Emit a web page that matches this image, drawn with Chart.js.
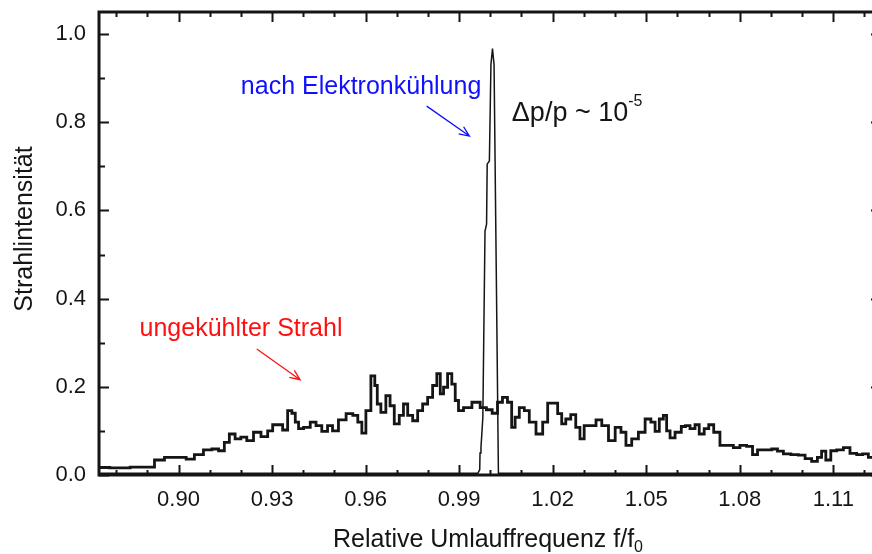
<!DOCTYPE html>
<html>
<head>
<meta charset="utf-8">
<script src="https://cdn.jsdelivr.net/npm/chart.js@4.4.1/dist/chart.umd.min.js"></script>
<style>
  html, body { margin: 0; padding: 0; background: #fff; overflow: hidden; }
</style>
</head>
<body>
<canvas id="beamChart" width="890" height="554"></canvas>
<script>
// ungekühlter Strahl (broad spectrum)
const freqBroad = [0.8746, 0.8813, 0.8877, 0.8915, 0.8931, 0.8979, 0.9011, 0.9038, 0.9064, 0.9096,
  0.9118, 0.9139, 0.9155, 0.9171, 0.9192, 0.9208, 0.9230, 0.9251, 0.9278, 0.9294,
  0.9310, 0.9326, 0.9342, 0.9358, 0.9369, 0.9380, 0.9390, 0.9412, 0.9433, 0.9449,
  0.9470, 0.9486, 0.9502, 0.9524, 0.9551, 0.9567, 0.9583, 0.9593, 0.9609, 0.9625,
  0.9634, 0.9641, 0.9657, 0.9673, 0.9684, 0.9700, 0.9716, 0.9727, 0.9743, 0.9759,
  0.9775, 0.9791, 0.9807, 0.9823, 0.9834, 0.9845, 0.9855, 0.9871, 0.9882, 0.9893,
  0.9903, 0.9925, 0.9957, 0.9978, 0.9997, 1.0015, 1.0031, 1.0047, 1.0063, 1.0074,
  1.0085, 1.0101, 1.0117, 1.0133, 1.0160, 1.0176, 1.0192, 1.0208, 1.0224, 1.0234,
  1.0250, 1.0266, 1.0282, 1.0293, 1.0309, 1.0331, 1.0347, 1.0368, 1.0390, 1.0411,
  1.0427, 1.0443, 1.0464, 1.0486, 1.0507, 1.0523, 1.0534, 1.0550, 1.0560, 1.0571,
  1.0582, 1.0603, 1.0622, 1.0630, 1.0651, 1.0662, 1.0678, 1.0694, 1.0707, 1.0726,
  1.0747, 1.0769, 1.0790, 1.0811, 1.0833, 1.0849, 1.0865, 1.0892, 1.0913, 1.0929,
  1.0951, 1.0977, 1.0999, 1.1020, 1.1041, 1.1057, 1.1068, 1.1084, 1.1100, 1.1122,
  1.1143, 1.1164, 1.1186, 1.1202, 1.1223, 1.1253];
const intensityBroad = [0.017, 0.016, 0.018, 0.018, 0.034, 0.040, 0.040, 0.036, 0.046, 0.057,
  0.059, 0.055, 0.074, 0.093, 0.082, 0.086, 0.078, 0.097, 0.087, 0.100,
  0.114, 0.114, 0.102, 0.146, 0.140, 0.120, 0.105, 0.108, 0.120, 0.112,
  0.099, 0.112, 0.100, 0.125, 0.139, 0.135, 0.120, 0.095, 0.146, 0.225,
  0.203, 0.161, 0.142, 0.180, 0.157, 0.116, 0.135, 0.161, 0.135, 0.123,
  0.146, 0.161, 0.176, 0.203, 0.230, 0.184, 0.199, 0.230, 0.206, 0.169,
  0.146, 0.153, 0.165, 0.153, 0.148, 0.140, 0.165, 0.176, 0.165, 0.108,
  0.131, 0.153, 0.146, 0.120, 0.093, 0.120, 0.163, 0.163, 0.139, 0.116,
  0.127, 0.137, 0.108, 0.082, 0.112, 0.112, 0.125, 0.112, 0.078, 0.108,
  0.097, 0.067, 0.082, 0.097, 0.127, 0.120, 0.099, 0.127, 0.135, 0.100,
  0.084, 0.097, 0.110, 0.112, 0.105, 0.114, 0.093, 0.105, 0.114, 0.097,
  0.067, 0.067, 0.062, 0.067, 0.065, 0.046, 0.057, 0.057, 0.059, 0.054,
  0.048, 0.046, 0.045, 0.037, 0.031, 0.040, 0.054, 0.034, 0.055, 0.057,
  0.062, 0.049, 0.046, 0.048, 0.040, 0.040];

// nach Elektronkühlung (narrow peak)
const freqCooled = [0.8745, 0.9960, 0.9966, 0.9967, 0.9970, 0.9976, 0.9983, 0.9988, 0.9990, 0.9997,
  1.0002, 1.0007, 1.0012, 1.0019, 1.0026, 1.1253];
const intensityCooled = [0.004, 0.004, 0.012, 0.050, 0.062, 0.130, 0.553, 0.569, 0.705, 0.712,
  0.931, 0.967, 0.930, 0.470, 0.004, 0.004];

const xTicks = [0.90, 0.93, 0.96, 0.99, 1.02, 1.05, 1.08, 1.11];
const xMinor = [0.88, 0.89, 0.91, 0.92, 0.94, 0.95, 0.97, 0.98, 1.00, 1.01, 1.03, 1.04, 1.06, 1.07, 1.09, 1.10, 1.12];
const yTicks = [0.0, 0.2, 0.4, 0.6, 0.8, 1.0];
const yMinor = [0.1, 0.3, 0.5, 0.7, 0.9];

const FONT = '"Liberation Sans", Arial, sans-serif';
const INK = '#151515';

// axis box with inward ticks on all four sides
const framePlugin = {
  id: 'frame',
  afterDraw(chart) {
    const { ctx, chartArea: a, scales: { x, y } } = chart;
    ctx.save();
    ctx.strokeStyle = INK;
    ctx.lineWidth = 2;
    ctx.beginPath();
    const xt = (v, len) => {
      const px = Math.round(x.getPixelForValue(v)) + 0.5;
      ctx.moveTo(px, a.bottom); ctx.lineTo(px, a.bottom - len);
      ctx.moveTo(px, a.top); ctx.lineTo(px, a.top + len);
    };
    const yt = (v, len) => {
      const py = Math.round(y.getPixelForValue(v)) + 0.5;
      ctx.moveTo(a.left, py); ctx.lineTo(a.left + len, py);
      ctx.moveTo(a.right, py); ctx.lineTo(a.right - len, py);
    };
    xTicks.forEach(v => xt(v, 10));
    xMinor.forEach(v => xt(v, 5));
    yTicks.forEach(v => yt(v, 10));
    yMinor.forEach(v => yt(v, 6));
    ctx.stroke();
    ctx.lineWidth = 3;
    ctx.strokeRect(a.left, a.top, a.right - a.left, a.bottom - a.top);
    ctx.restore();
  }
};

function arrow(ctx, x1, y1, x2, y2, color) {
  const ang = Math.atan2(y2 - y1, x2 - x1);
  ctx.strokeStyle = color;
  ctx.lineWidth = 1.3;
  ctx.beginPath();
  ctx.moveTo(x1, y1); ctx.lineTo(x2, y2);
  ctx.moveTo(x2 - 11 * Math.cos(ang - 0.4), y2 - 11 * Math.sin(ang - 0.4));
  ctx.lineTo(x2, y2);
  ctx.lineTo(x2 - 11 * Math.cos(ang + 0.4), y2 - 11 * Math.sin(ang + 0.4));
  ctx.stroke();
}

const notesPlugin = {
  id: 'notes',
  afterDraw(chart) {
    const { ctx, scales: { x, y } } = chart;
    const X = v => x.getPixelForValue(v), Y = v => y.getPixelForValue(v);
    ctx.save();
    ctx.textBaseline = 'alphabetic';
    ctx.textAlign = 'left';

    ctx.font = '25px ' + FONT;
    ctx.fillStyle = '#1010ff';
    ctx.fillText('nach Elektronkühlung', X(0.9200), Y(0.864));
    arrow(ctx, X(0.9796), Y(0.8365), X(0.9933), Y(0.7686), '#1010ff');

    ctx.fillStyle = '#ff1010';
    ctx.fillText('ungekühlter Strahl', X(0.8875), Y(0.3147));
    arrow(ctx, X(0.9251), Y(0.2857), X(0.9390), Y(0.2162), '#ff1010');

    ctx.fillStyle = INK;
    ctx.font = '27px ' + FONT;
    const main = 'Δp/p ~ 10';
    const bx = X(1.0069), by = Y(0.8026);
    ctx.fillText(main, bx, by);
    const w = ctx.measureText(main).width;
    ctx.font = '16px ' + FONT;
    ctx.fillText('-5', bx + w, by - 15);

    // axis titles
    ctx.font = '25px ' + FONT;
    const t1 = 'Relative Umlauffrequenz f/f';
    const w1 = ctx.measureText(t1).width;
    ctx.font = '16px ' + FONT;
    const w2 = ctx.measureText('0').width;
    const left = 488 - (w1 + w2) / 2;
    ctx.font = '25px ' + FONT;
    ctx.fillText(t1, left, 547);
    ctx.font = '16px ' + FONT;
    ctx.fillText('0', left + w1, 552);

    ctx.font = '25px ' + FONT;
    ctx.translate(32, 229);
    ctx.rotate(-Math.PI / 2);
    ctx.textAlign = 'center';
    ctx.fillText('Strahlintensität', 0, 0);
    ctx.restore();
  }
};

const toPoints = (xs, ys) => xs.map((v, i) => ({ x: v, y: ys[i] }));

// keep the plot box fixed: no extra room for edge labels
const noEdgePadding = s => {
  s.paddingTop = 0; s.paddingBottom = 0; s.paddingLeft = 0; s.paddingRight = 0;
};

new Chart(document.getElementById('beamChart').getContext('2d'), {
  type: 'line',
  data: {
    datasets: [
      {
        label: 'ungekühlter Strahl',
        data: toPoints(freqBroad, intensityBroad),
        borderColor: INK,
        borderWidth: 2.8,
        borderJoinStyle: 'miter',
        stepped: 'middle',
        pointRadius: 0
      },
      {
        label: 'nach Elektronkühlung',
        data: toPoints(freqCooled, intensityCooled),
        borderColor: INK,
        borderWidth: 1.5,
        pointRadius: 0,
        tension: 0
      }
    ]
  },
  options: {
    responsive: false,
    animation: false,
    layout: { padding: { top: 12, right: 9, left: 0, bottom: 0 } },
    plugins: { legend: { display: false }, tooltip: { enabled: false } },
    scales: {
      x: {
        type: 'linear',
        min: 0.8745,
        max: 1.1253,
        grid: { display: false, drawTicks: false },
        border: { display: false },
        ticks: {
          color: INK,
          font: { size: 22, family: FONT, lineHeight: 1 },
          padding: 14,
          maxRotation: 0,
          autoSkip: false,
          callback: v => v.toFixed(2)
        },
        afterBuildTicks: s => { s.ticks = xTicks.map(v => ({ value: v })); },
        afterFit: s => { s.height = 79; noEdgePadding(s); }
      },
      y: {
        type: 'linear',
        min: 0,
        max: 1.05,
        grid: { display: false, drawTicks: false },
        border: { display: false },
        ticks: {
          color: INK,
          font: { size: 22, family: FONT, lineHeight: 1 },
          padding: 13,
          callback: v => v.toFixed(1)
        },
        afterBuildTicks: s => { s.ticks = yTicks.map(v => ({ value: v })); },
        afterFit: s => { s.width = 99; noEdgePadding(s); }
      }
    }
  },
  plugins: [framePlugin, notesPlugin]
});
</script>
</body>
</html>
